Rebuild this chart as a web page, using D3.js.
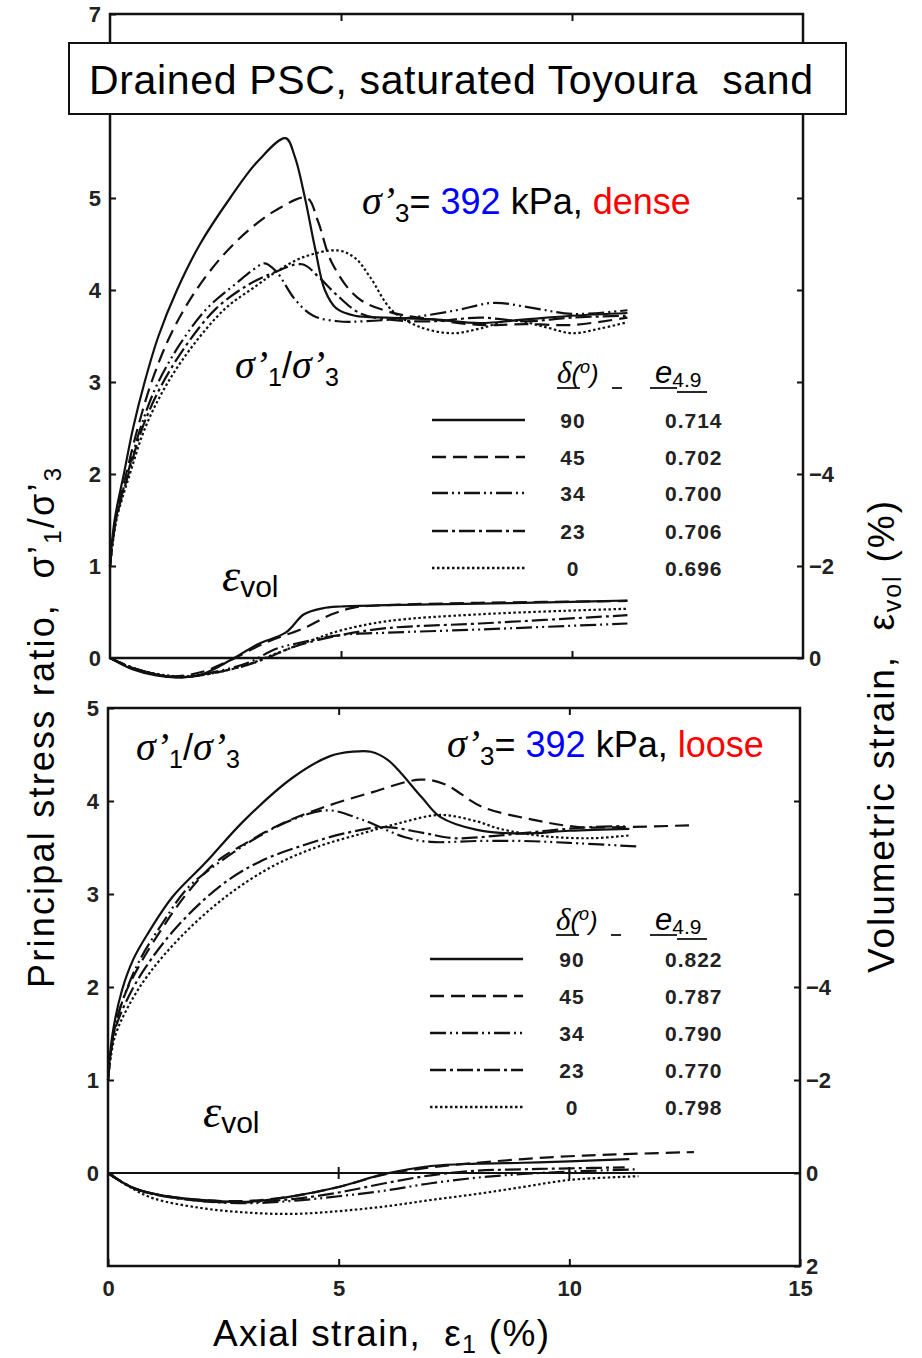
<!DOCTYPE html>
<html>
<head>
<meta charset="utf-8">
<script src="https://cdn.jsdelivr.net/npm/d3@7"></script>
<style>
body { margin: 0; background: #fff; }
svg text { font-family: Arial, "Liberation Sans", sans-serif; white-space: pre; }
.serif { font-family: "Liberation Serif", "Times New Roman", serif; font-style: italic; }
</style>
</head>
<body>
<svg id="chart" width="922" height="1358"></svg>
<script>
// ---- data ----
const strainTicks = [0, 5, 10, 15];
const ratioTicksTop = [0, 1, 2, 3, 4, 5, 6, 7];
const ratioLabelsTop = [0, 1, 2, 3, 4, 5, 7];
const ratioTicksBot = [0, 1, 2, 3, 4, 5];
const volTicksTop = [0, -2, -4, -6, -8, -10, -12];
const volLabelsTop = [0, -2, -4];
const volTicksBot = [2, 0, -2, -4, -6, -8];
const volLabelsBot = [2, 0, -2, -4];

const deltas = [90, 45, 34, 23, 0];
const denseVoid = ["0.714", "0.702", "0.700", "0.706", "0.696"];
const looseVoid = ["0.822", "0.787", "0.790", "0.770", "0.798"];

// dense: [axial strain %, sigma1/sigma3]
const denseRatio90 = [[0,1],[0.1,1.5],[0.3,2.0],[0.5,2.5],[0.75,3.0],[1.05,3.5],[1.45,4.0],[1.95,4.5],[2.6,5.0],[3.2,5.4],[3.8,5.65],[4.0,5.45],[4.22,5.0],[4.44,4.45],[4.65,4.0],[4.9,3.8],[5.3,3.72],[6,3.7],[7,3.68],[8,3.64],[9,3.68],[10,3.72],[11.2,3.75]];
const denseRatio45 = [[0,1],[0.12,1.5],[0.35,2.0],[0.6,2.5],[0.9,3.0],[1.3,3.5],[1.8,3.95],[2.4,4.35],[3.0,4.65],[3.6,4.87],[4.26,5.0],[4.5,4.75],[4.8,4.3],[5.35,3.92],[6.06,3.76],[7,3.68],[8,3.62],[9,3.63],[10,3.62],[11.2,3.7]];
const denseRatio34 = [[0,1],[0.12,1.5],[0.38,2.0],[0.66,2.5],[1.0,2.95],[1.5,3.4],[2.1,3.8],[2.75,4.08],[3.1,4.22],[3.35,4.29],[3.6,4.2],[4.0,3.9],[4.4,3.72],[4.93,3.66],[5.5,3.66],[6.5,3.7],[7.5,3.78],[8.3,3.86],[9.2,3.8],[10,3.74],[11.2,3.78]];
const denseRatio23 = [[0,1],[0.13,1.5],[0.4,2.0],[0.7,2.5],[1.1,2.95],[1.65,3.4],[2.3,3.8],[2.97,4.05],[3.5,4.18],[4.16,4.28],[4.5,4.15],[4.9,3.95],[5.4,3.75],[6,3.68],[7,3.66],[8,3.7],[9,3.66],[10,3.7],[11.2,3.72]];
const denseRatio0 = [[0,1],[0.14,1.5],[0.43,2.0],[0.76,2.5],[1.2,2.95],[1.8,3.4],[2.5,3.8],[3.18,4.05],[3.6,4.2],[4.2,4.36],[4.93,4.43],[5.3,4.35],[5.63,4.14],[6.1,3.78],[6.7,3.6],[7.4,3.53],[8.0,3.58],[8.7,3.67],[9.4,3.6],[10,3.53],[10.6,3.58],[11.2,3.65]];

// dense: [axial strain %, volumetric strain %] (compression positive)
const denseVol90 = [[0,0],[0.5,0.25],[1.0,0.38],[1.5,0.42],[2.0,0.35],[2.6,0.05],[3.2,-0.3],[3.8,-0.55],[4.2,-0.95],[4.6,-1.08],[5.0,-1.12],[6,-1.15],[8,-1.18],[10,-1.22],[11.2,-1.25]];
const denseVol45 = [[0,0],[0.5,0.22],[1.3,0.4],[2,0.3],[2.6,0.05],[3.4,-0.35],[4.2,-0.65],[4.8,-0.95],[5.3,-1.1],[6,-1.15],[8,-1.2],[11.2,-1.24]];
const denseVol34 = [[0,0],[0.6,0.25],[1.5,0.42],[2.5,0.25],[3,0.1],[3.6,-0.2],[4.2,-0.35],[5,-0.5],[6,-0.55],[8,-0.62],[11.2,-0.75]];
const denseVol23 = [[0,0],[0.6,0.25],[1.5,0.42],[2.8,0.2],[3.4,0],[4,-0.25],[5,-0.5],[6,-0.65],[8,-0.75],[11.2,-0.93]];
const denseVol0 = [[0,0],[0.6,0.25],[1.6,0.4],[2.8,0.2],[3.6,-0.1],[4.4,-0.4],[5,-0.6],[6,-0.8],[8,-0.95],[11.2,-1.07]];

// loose
const looseRatio90 = [[0,1],[0.1,1.5],[0.3,1.96],[0.55,2.3],[0.87,2.58],[1.4,2.97],[2.1,3.33],[2.97,3.8],[4.0,4.25],[4.8,4.48],[5.3,4.53],[5.7,4.53],[6.07,4.44],[6.8,4.04],[7.2,3.83],[8.0,3.69],[9,3.65],[10,3.68],[11.3,3.7]];
const looseRatio45 = [[0,1],[0.12,1.5],[0.35,1.9],[0.7,2.25],[1.2,2.65],[1.7,3.0],[2.36,3.35],[3.0,3.55],[3.7,3.74],[4.6,3.92],[5.7,4.09],[6.77,4.23],[7.3,4.18],[8.1,3.94],[9.2,3.8],[10.2,3.72],[11.2,3.72],[12.7,3.74]];
const looseRatio34 = [[0,1],[0.12,1.5],[0.35,1.9],[0.7,2.3],[1.2,2.7],[1.7,3.05],[2.3,3.3],[3.2,3.6],[4.0,3.8],[4.77,3.9],[5.5,3.8],[6.44,3.61],[7,3.56],[8,3.57],[9,3.57],[10,3.55],[11.5,3.51]];
const looseRatio23 = [[0,1],[0.13,1.5],[0.4,1.85],[0.8,2.2],[1.5,2.65],[2.47,3.1],[3.3,3.35],[4.27,3.53],[5.2,3.66],[6.0,3.72],[6.8,3.66],[7.5,3.6],[8.5,3.63],[9.5,3.68],[10.5,3.72],[11.2,3.73]];
const looseRatio0 = [[0,1],[0.14,1.45],[0.45,1.8],[0.9,2.15],[1.6,2.55],[2.5,2.95],[3.5,3.28],[4.5,3.5],[5.5,3.65],[6.3,3.76],[7.2,3.85],[8,3.78],[8.5,3.7],[9.5,3.62],[10.5,3.6],[11.3,3.63]];

const looseVol90 = [[0,0],[0.5,0.3],[1,0.45],[2,0.58],[3,0.62],[4,0.5],[5,0.3],[6,0.02],[7,-0.15],[8,-0.2],[9,-0.22],[10,-0.25],[11.3,-0.3]];
const looseVol45 = [[0,0],[0.5,0.3],[1,0.45],[2,0.58],[3,0.6],[4,0.5],[5,0.3],[6,0.03],[7,-0.12],[8,-0.22],[9,-0.3],[10,-0.36],[11,-0.4],[12.7,-0.45]];
const looseVol34 = [[0,0],[0.5,0.3],[1,0.45],[2,0.6],[3,0.65],[4,0.6],[5,0.5],[6,0.38],[7,0.22],[8,0.1],[9,0.02],[10,-0.03],[11.5,-0.08]];
const looseVol23 = [[0,0],[0.5,0.3],[1,0.46],[2,0.6],[3,0.63],[4,0.56],[5,0.42],[6,0.22],[7,0.05],[8,-0.05],[9,-0.08],[10,-0.1],[11.2,-0.12]];
const looseVol0 = [[0,0],[0.5,0.32],[1,0.55],[2,0.75],[3,0.85],[4,0.88],[5,0.82],[6,0.72],[7,0.58],[8,0.45],[9,0.3],[10,0.15],[11.5,0.07]];

// line styles, same order as deltas
const dashes = ["none", "14,7", "16,4,2,4,2,4", "16,4,3,4", "2.5,2.5"];

const svg = d3.select("#chart");

// scales
const xTop = d3.scaleLinear().domain([0, 15]).range([110, 803]);
const yTop = d3.scaleLinear().domain([0, 7]).range([658, 14]);
const vTop = d3.scaleLinear().domain([0, -14]).range([658, 14]);
const xBot = d3.scaleLinear().domain([0, 15]).range([108, 800]);
const yBot = d3.scaleLinear().domain([-1, 5]).range([1266, 708]);
const vBot = d3.scaleLinear().domain([2, -10]).range([1266, 708]);

function only(list) {
    return function(d){ return list.indexOf(d) >= 0 ? d3.format("d")(d).replace("-", "\u2212") : ""; };
}

function drawPanel(x, y, v, opt) {
    const g = svg.append("g");
    // ticks (inward)
    g.append("g").attr("transform", "translate(" + x.range()[0] + ",0)")
        .call(d3.axisLeft(y).tickValues(opt.yTicks).tickSize(-6).tickPadding(9).tickFormat(only(opt.yLabels)));
    g.append("g").attr("transform", "translate(" + x.range()[1] + ",0)")
        .call(d3.axisRight(v).tickValues(opt.vTicks).tickSize(-6).tickPadding(6).tickFormat(only(opt.vLabels)));
    g.append("g").attr("transform", "translate(0," + y.range()[1] + ")")
        .call(d3.axisTop(x).tickValues([5, 10]).tickSize(-7).tickFormat(""));
    g.append("g").attr("transform", "translate(0," + y.range()[0] + ")")
        .call(d3.axisBottom(x).tickValues(opt.xLabels ? strainTicks : [5, 10]).tickSize(-7).tickPadding(14)
            .tickFormat(opt.xLabels ? d3.format("d") : ""));
    g.selectAll(".domain").remove();
    g.selectAll(".tick line").attr("stroke", "#111").attr("stroke-width", 2);
    g.selectAll(".tick text")
        .attr("font-size", 22).attr("font-weight", "bold").attr("fill", "#222")
        .attr("font-family", "Arial, 'Liberation Sans', sans-serif");

    // frame
    g.append("rect")
        .attr("x", x.range()[0]).attr("y", y.range()[1])
        .attr("width", x.range()[1] - x.range()[0])
        .attr("height", y.range()[0] - y.range()[1])
        .attr("fill", "none").attr("stroke", "#111").attr("stroke-width", 2.5);
    if (opt.zeroLine) {
        g.append("line")
            .attr("x1", x.range()[0]).attr("x2", x.range()[1])
            .attr("y1", v(0)).attr("y2", v(0))
            .attr("stroke", "#111").attr("stroke-width", 2);
        g.selectAll(null).data([5, 10]).enter().append("line")
            .attr("x1", function(d){ return x(d); }).attr("x2", function(d){ return x(d); })
            .attr("y1", v(0) - 6).attr("y2", v(0) + 6)
            .attr("stroke", "#111").attr("stroke-width", 2);
    }

    const ratioLine = d3.line().x(function(d){ return x(d[0]); }).y(function(d){ return y(d[1]); })
        .curve(d3.curveCatmullRom.alpha(0.5));
    const volLine = d3.line().x(function(d){ return x(d[0]); }).y(function(d){ return v(d[1]); })
        .curve(d3.curveCatmullRom.alpha(0.5));

    g.selectAll(".ratio").data(opt.ratio).enter().append("path")
        .attr("d", ratioLine)
        .attr("fill", "none").attr("stroke", "#111").attr("stroke-width", 2.2)
        .attr("stroke-dasharray", function(d, i){ return dashes[i]; });
    g.selectAll(".vol").data(opt.vol).enter().append("path")
        .attr("d", volLine)
        .attr("fill", "none").attr("stroke", "#111").attr("stroke-width", 2.2)
        .attr("stroke-dasharray", function(d, i){ return dashes[i]; });
}

drawPanel(xTop, yTop, vTop, {
    yTicks: ratioTicksTop, yLabels: ratioLabelsTop, vTicks: volTicksTop, vLabels: volLabelsTop,
    xLabels: false, zeroLine: false,
    ratio: [denseRatio90, denseRatio45, denseRatio34, denseRatio23, denseRatio0],
    vol: [denseVol90, denseVol45, denseVol34, denseVol23, denseVol0]
});
drawPanel(xBot, yBot, vBot, {
    yTicks: ratioTicksBot, yLabels: ratioTicksBot, vTicks: volTicksBot, vLabels: volLabelsBot,
    xLabels: true, zeroLine: true,
    ratio: [looseRatio90, looseRatio45, looseRatio34, looseRatio23, looseRatio0],
    vol: [looseVol90, looseVol45, looseVol34, looseVol23, looseVol0]
});

// legends
function legend(x0, yRows, yHead, deltaX, eX, voids) {
    const g = svg.append("g");
    g.selectAll(".lg").data(deltas).enter().append("line")
        .attr("x1", x0).attr("x2", x0 + 93)
        .attr("y1", function(d, i){ return yRows[i]; }).attr("y2", function(d, i){ return yRows[i]; })
        .attr("stroke", "#111").attr("stroke-width", 2.5)
        .attr("stroke-dasharray", function(d, i){ return dashes[i]; });
    g.selectAll(".ld").data(deltas).enter().append("text")
        .attr("x", deltaX).attr("y", function(d, i){ return yRows[i] + 8; })
        .attr("text-anchor", "middle").attr("font-size", 21).attr("font-weight", "bold")
        .attr("letter-spacing", 1).attr("fill", "#222")
        .text(function(d){ return d; });
    g.selectAll(".le").data(voids).enter().append("text")
        .attr("x", eX).attr("y", function(d, i){ return yRows[i] + 8; })
        .attr("font-size", 21).attr("font-weight", "bold")
        .attr("letter-spacing", 1).attr("fill", "#222")
        .text(function(d){ return d; });

    // header
    const dx = deltaX - 16;
    const h = g.append("text").attr("x", dx).attr("y", yHead).attr("font-size", 31);
    h.append("tspan").attr("class", "serif").text("\u03b4");
    h.append("tspan").attr("font-style", "italic").attr("font-size", 26).text("(");
    h.append("tspan").attr("font-style", "italic").attr("font-size", 18).attr("dy", -10).text("o");
    h.append("tspan").attr("font-style", "italic").attr("font-size", 26).attr("dy", 10).text(")");
    const e = g.append("text").attr("x", eX - 10).attr("y", yHead).attr("font-size", 31);
    e.append("tspan").attr("font-style", "italic").text("e");
    e.append("tspan").attr("font-size", 21).attr("dy", 4).text("4.9");
    const ul = [[dx, dx + 23, yHead + 5], [dx + 55, dx + 65, yHead + 5],
                [eX - 15, eX + 12, yHead + 5], [eX + 12, eX + 42, yHead + 9]];
    g.selectAll(".ul").data(ul).enter().append("line")
        .attr("x1", function(d){ return d[0]; }).attr("x2", function(d){ return d[1]; })
        .attr("y1", function(d){ return d[2]; }).attr("y2", function(d){ return d[2]; })
        .attr("stroke", "#111").attr("stroke-width", 1.8);
}
legend(432, [420, 457, 493, 531, 568], 383, 573, 665, denseVoid);
legend(430, [959, 996, 1033, 1070, 1107], 930, 572, 665, looseVoid);

// annotations
function sigmaLabel(x, y, dens, color) {
    const t = svg.append("text").attr("x", x).attr("y", y).attr("font-size", 36);
    t.append("tspan").attr("class", "serif").attr("font-size", 40).text("\u03c3\u2019");
    t.append("tspan").attr("font-size", 26).attr("dy", 8).text("3");
    t.append("tspan").attr("dy", -8).text("= ");
    t.append("tspan").attr("fill", "#0000ff").text("392");
    t.append("tspan").text(" kPa, ");
    t.append("tspan").attr("fill", color).text(dens);
}
sigmaLabel(362, 214, "dense", "#ff0000");
sigmaLabel(447, 757, "loose", "#ff0000");

function ratioLabel(x, y) {
    const t = svg.append("text").attr("x", x).attr("y", y).attr("font-size", 36);
    t.append("tspan").attr("class", "serif").attr("font-size", 40).text("\u03c3\u2019");
    t.append("tspan").attr("font-size", 25).attr("dy", 8).text("1");
    t.append("tspan").attr("dy", -8).text("/");
    t.append("tspan").attr("class", "serif").attr("font-size", 40).text("\u03c3\u2019");
    t.append("tspan").attr("font-size", 25).attr("dy", 8).text("3");
}
ratioLabel(235, 378);
ratioLabel(136, 760);

function volLabel(x, y) {
    const t = svg.append("text").attr("x", x).attr("y", y);
    t.append("tspan").attr("class", "serif").attr("font-size", 46).text("\u03b5");
    t.append("tspan").attr("font-size", 30).attr("dy", 6).text("vol");
}
volLabel(222, 591);
volLabel(203, 1127);

// title box
svg.append("rect").attr("x", 69).attr("y", 43).attr("width", 777).attr("height", 71)
    .attr("fill", "#fff").attr("stroke", "#111").attr("stroke-width", 2);
svg.append("text").attr("x", 89).attr("y", 94).attr("font-size", 41)
    .attr("textLength", 724).attr("lengthAdjust", "spacing")
    .text("Drained PSC, saturated Toyoura  sand");

// axis titles
const yl = svg.append("text").attr("transform", "translate(54,728) rotate(-90)")
    .attr("text-anchor", "middle").attr("font-size", 36)
    .attr("textLength", 520).attr("lengthAdjust", "spacing");
yl.append("tspan").text("Principal stress ratio,  \u03c3\u2019");
yl.append("tspan").attr("font-size", 24).attr("dy", 7).text("1");
yl.append("tspan").attr("dy", -7).text("/\u03c3\u2019");
yl.append("tspan").attr("font-size", 24).attr("dy", 7).text("3");

const yr = svg.append("text").attr("transform", "translate(894,737) rotate(-90)")
    .attr("text-anchor", "middle").attr("font-size", 37)
    .attr("textLength", 472).attr("lengthAdjust", "spacing");
yr.append("tspan").text("Volumetric strain,  \u03b5");
yr.append("tspan").attr("font-size", 25).attr("dy", 7).text("vol");
yr.append("tspan").attr("dy", -7).text(" (%)");

const xl = svg.append("text").attr("x", 381).attr("y", 1346)
    .attr("text-anchor", "middle").attr("font-size", 37)
    .attr("textLength", 336).attr("lengthAdjust", "spacing");
xl.append("tspan").text("Axial strain,  \u03b5");
xl.append("tspan").attr("font-size", 25).attr("dy", 7).text("1");
xl.append("tspan").attr("dy", -7).text(" (%)");
</script>
</body>
</html>
